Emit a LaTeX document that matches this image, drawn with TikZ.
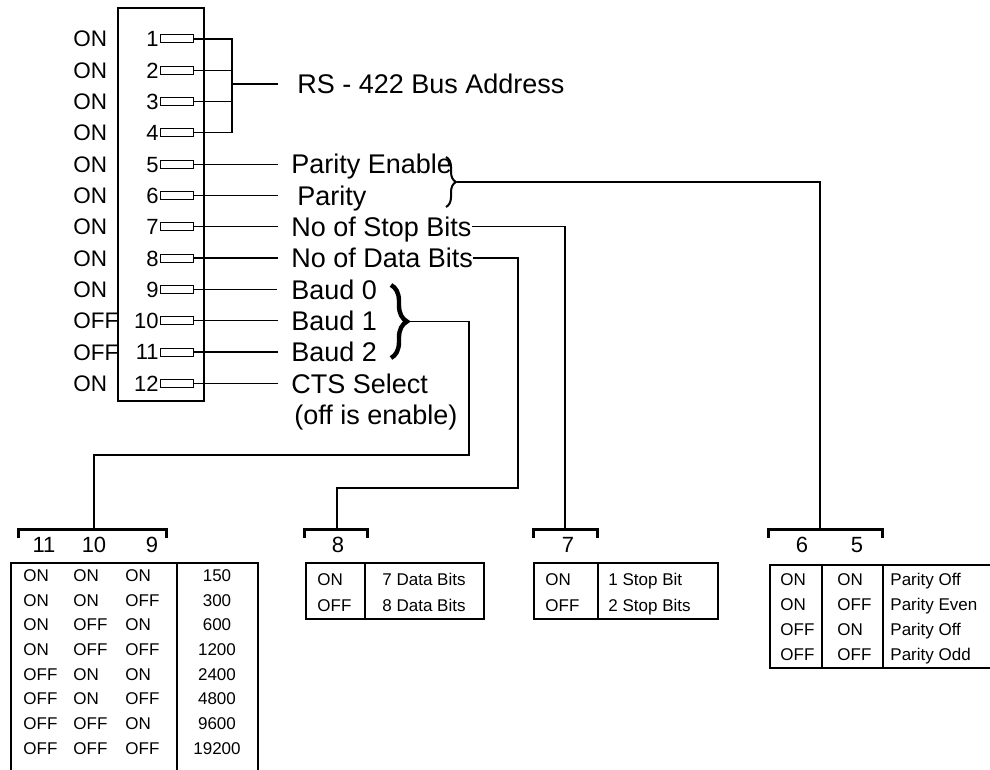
\documentclass[tikz,border=0pt]{standalone}
\usepackage{fontspec}
\setmainfont{Liberation Sans}
\usetikzlibrary{positioning,decorations.pathreplacing}

\tikzset{
  onlab/.style={anchor=west,inner sep=0pt,font=\fontsize{11.25}{13}\selectfont,text height=8pt,text depth=0pt},
  swbox/.style={draw,line width=0.5pt,minimum width=16.5pt,minimum height=4pt,inner sep=0pt},
  swnum/.style={inner sep=0pt,font=\fontsize{11}{13}\selectfont,text height=7.9pt,text depth=0pt},
  dipbox/.style={draw,line width=0.9pt,minimum width=43pt,minimum height=196.5pt,inner sep=0pt},
  lab/.style={anchor=west,inner sep=0pt,font=\fontsize{13.5}{16}\selectfont,text height=9.7pt,text depth=0pt},
  tab/.style={anchor=west,inner sep=0pt,font=\fontsize{8.5}{10}\selectfont,text height=6.1pt,text depth=0pt},
  num/.style={tab,anchor=center},
  brklab/.style={inner sep=0pt,font=\fontsize{11}{13}\selectfont,text height=7.9pt,text depth=0pt},
  wire/.style={line width=0.6pt},
  tolab/.style={wire,shorten >=6.5pt},
  brk/.style={line width=1.5pt},
  tbl/.style={line width=0.6pt},
  pbrace/.style={decorate,decoration={brace,amplitude=5pt},line width=1pt},
  bbrace/.style={decorate,decoration={brace,amplitude=8pt},line width=2.2pt}
}

\begin{document}
\begin{tikzpicture}[x=0.5pt,y=-0.5pt]
\useasboundingbox (0,0) rectangle (990,770);
\clip (0,0) rectangle (990,770);
% dip switch block
\node[dipbox] (dip) at (161,204.5) {};
\node[onlab] (o1) at (73,39) {ON};
\node[onlab] (o2) at (73,70.3) {ON};
\node[onlab] (o3) at (73,101.6) {ON};
\node[onlab] (o4) at (73,132.9) {ON};
\node[onlab] (o5) at (73,164.2) {ON};
\node[onlab] (o6) at (73,195.5) {ON};
\node[onlab] (o7) at (73,226.8) {ON};
\node[onlab] (o8) at (73,258.1) {ON};
\node[onlab] (o9) at (73,289.4) {ON};
\node[onlab] (o10) at (73,320.7) {OFF};
\node[onlab] (o11) at (73,352) {OFF};
\node[onlab] (o12) at (73,383.3) {ON};
\node[swbox] (s1) at (177,39) {};
\node[swbox] (s2) at (177,70.3) {};
\node[swbox] (s3) at (177,101.6) {};
\node[swbox] (s4) at (177,132.9) {};
\node[swbox] (s5) at (177,164.2) {};
\node[swbox] (s6) at (177,195.5) {};
\node[swbox] (s7) at (177,226.8) {};
\node[swbox] (s8) at (177,258.1) {};
\node[swbox] (s9) at (177,289.4) {};
\node[swbox] (s10) at (177,320.7) {};
\node[swbox] (s11) at (177,352) {};
\node[swbox] (s12) at (177,383.3) {};
\node[swnum,left=0.5pt of s1] (n1) {1};
\node[swnum,left=0.5pt of s2] (n2) {2};
\node[swnum,left=0.5pt of s3] (n3) {3};
\node[swnum,left=0.5pt of s4] (n4) {4};
\node[swnum,left=0.5pt of s5] (n5) {5};
\node[swnum,left=0.5pt of s6] (n6) {6};
\node[swnum,left=0.5pt of s7] (n7) {7};
\node[swnum,left=0.5pt of s8] (n8) {8};
\node[swnum,left=0.5pt of s9] (n9) {9};
\node[swnum,left=0.5pt of s10] (n10) {10};
\node[swnum,left=0.5pt of s11] (n11) {11};
\node[swnum,left=0.5pt of s12] (n12) {12};
% labels
\node[lab] (rs) at (297,84) {RS - 422 Bus Address};
\node[lab] (l5) at (291,164.2) {Parity Enable};
\node[lab] (l6) at (297,195.5) {Parity};
\node[lab] (l7) at (291,226.8) {No of Stop Bits};
\node[lab] (l8) at (291,258.1) {No of Data Bits};
\node[lab] (l9) at (291,289.4) {Baud 0};
\node[lab] (l10) at (291,320.7) {Baud 1};
\node[lab] (l11) at (291,352) {Baud 2};
\node[lab] (l12) at (291,383.3) {CTS Select};
\node[lab] (l12b) at (294,415) {(off is enable)};
% switch to label wires
\coordinate (ra) at (232,84);
\draw[wire] (s1.east) -| (ra);
\draw[wire] (s2.east) -| (ra);
\draw[wire] (s3.east) -| (ra);
\draw[wire] (s4.east) -| (ra);
\draw[wire,shorten >=9.5pt] (ra) -- (rs.west);
\draw[tolab] (s5.east) -- (l5.west);
\draw[tolab,shorten >=9.5pt] (s6.east) -- (l6.west);
\draw[tolab] (s7.east) -- (l7.west);
\draw[tolab] (s8.east) -- (l8.west);
\draw[tolab,shorten >=7pt] (s9.east) -- (l9.west);
\draw[tolab] (s10.east) -- (l10.west);
\draw[tolab] (s11.east) -- (l11.west);
\draw[tolab] (s12.east) -- (l12.west);
% braces
\draw[pbrace] (446,157) -- (446,207);
\coordinate (pb) at (457,182);
\draw[bbrace] (391,285) -- (391,358);
\coordinate (bb) at (407,321.5);
% brackets over the tables
\coordinate (b109) at (94,529);
\coordinate (b8) at (337,529);
\coordinate (b7) at (565,529);
\coordinate (b65) at (820,529);
\draw[brk] (18,538) -- (18,529) -- (166,529) -- (166,538);
\draw[brk] (304,538) -- (304,529) -- (367,529) -- (367,538);
\draw[brk] (533,538) -- (533,529) -- (597,529) -- (597,538);
\draw[brk] (768,538) -- (768,529) -- (882,529) -- (882,538);
\node[brklab] (k11) at (44,545) {11};
\node[brklab] (k10) at (94,545) {10};
\node[brklab] (k9) at (152,545) {9};
\node[brklab] (k8) at (338,545) {8};
\node[brklab] (k7) at (568,545) {7};
\node[brklab] (k6) at (802,545) {6};
\node[brklab] (k5) at (857,545) {5};
% routing down to the tables
\coordinate (ba) at (469,455);
\coordinate (da) at (518,488);
\draw[wire] (bb) -| (ba) -| (b109);
\draw[wire] (l8.east) -| (da) -| (b8);
\draw[wire] (l7.east) -| (b7);
\draw[wire] (pb) -| (b65);
% baud table
\draw[tbl] (11,563) rectangle (258,790);
\draw[tbl] (177,563) -- (177,790);
\node[tab] (ba1) at (23,575) {ON}; \node[tab] (bb1) at (73,575) {ON}; \node[tab] (bc1) at (125,575) {ON}; \node[num] (bd1) at (217,575) {150};
\node[tab] (ba2) at (23,600) {ON}; \node[tab] (bb2) at (73,600) {ON}; \node[tab] (bc2) at (125,600) {OFF}; \node[num] (bd2) at (217,600) {300};
\node[tab] (ba3) at (23,624) {ON}; \node[tab] (bb3) at (73,624) {OFF}; \node[tab] (bc3) at (125,624) {ON}; \node[num] (bd3) at (217,624) {600};
\node[tab] (ba4) at (23,649) {ON}; \node[tab] (bb4) at (73,649) {OFF}; \node[tab] (bc4) at (125,649) {OFF}; \node[num] (bd4) at (217,649) {1200};
\node[tab] (ba5) at (23,674) {OFF}; \node[tab] (bb5) at (73,674) {ON}; \node[tab] (bc5) at (125,674) {ON}; \node[num] (bd5) at (217,674) {2400};
\node[tab] (ba6) at (23,698) {OFF}; \node[tab] (bb6) at (73,698) {ON}; \node[tab] (bc6) at (125,698) {OFF}; \node[num] (bd6) at (217,698) {4800};
\node[tab] (ba7) at (23,723) {OFF}; \node[tab] (bb7) at (73,723) {OFF}; \node[tab] (bc7) at (125,723) {ON}; \node[num] (bd7) at (217,723) {9600};
\node[tab] (ba8) at (23,748) {OFF}; \node[tab] (bb8) at (73,748) {OFF}; \node[tab] (bc8) at (125,748) {OFF}; \node[num] (bd8) at (217,748) {19200};
% data bits table
\draw[tbl] (306,563) rectangle (484,619);
\draw[tbl] (365,563) -- (365,619);
\node[tab] (da1) at (317,579) {ON}; \node[tab] (db1) at (382,579) {7 Data Bits};
\node[tab] (da2) at (317,605) {OFF}; \node[tab] (db2) at (382,605) {8 Data Bits};
% stop bits table
\draw[tbl] (534,563) rectangle (718,619);
\draw[tbl] (598,563) -- (598,619);
\node[tab] (sa1) at (545,579) {ON}; \node[tab] (sb1) at (608,579) {1 Stop Bit};
\node[tab] (sa2) at (545,605) {OFF}; \node[tab] (sb2) at (608,605) {2 Stop Bits};
% parity table
\draw[tbl] (770,565) rectangle (1010,668);
\draw[tbl] (822,565) -- (822,668);
\draw[tbl] (883,565) -- (883,668);
\node[tab] (pa1) at (780,579) {ON}; \node[tab] (pb1) at (837,579) {ON}; \node[tab] (pc1) at (890,579) {Parity Off};
\node[tab] (pa2) at (780,604) {ON}; \node[tab] (pb2) at (837,604) {OFF}; \node[tab] (pc2) at (890,604) {Parity Even};
\node[tab] (pa3) at (780,629) {OFF}; \node[tab] (pb3) at (837,629) {ON}; \node[tab] (pc3) at (890,629) {Parity Off};
\node[tab] (pa4) at (780,654) {OFF}; \node[tab] (pb4) at (837,654) {OFF}; \node[tab] (pc4) at (890,654) {Parity Odd};
\end{tikzpicture}
\end{document}
